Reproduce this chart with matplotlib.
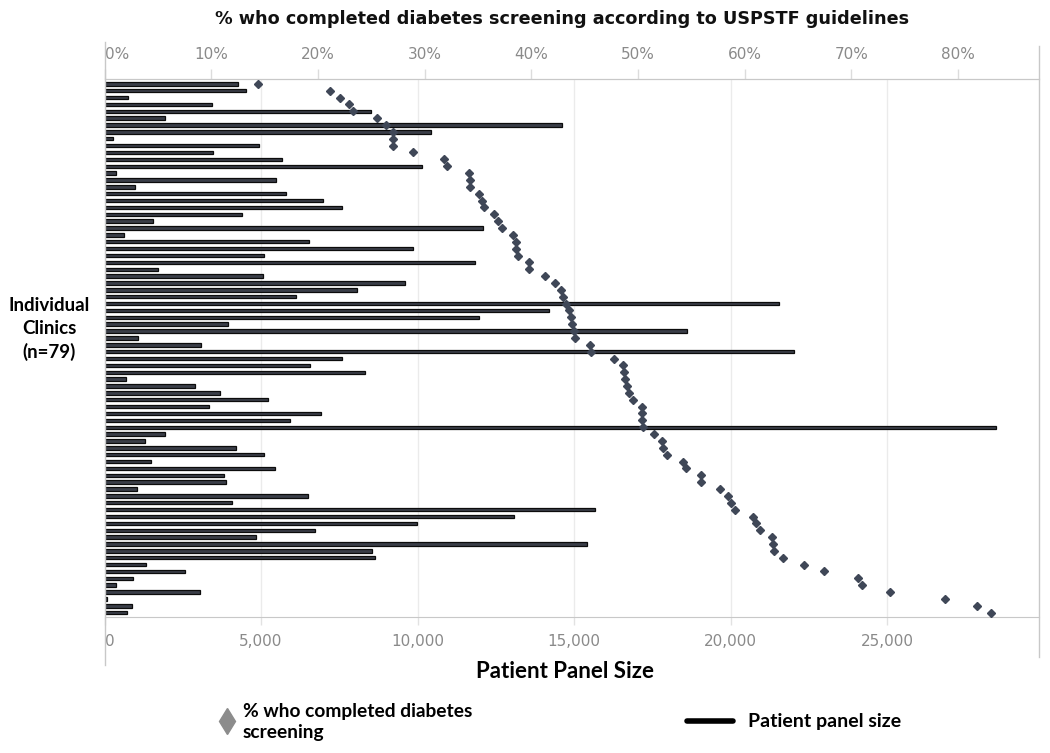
import matplotlib
matplotlib.use("Agg")
import matplotlib.pyplot as plt
from matplotlib.lines import Line2D
import numpy as np

# ---- data (one row per clinic, top to bottom) ----
panel_size = [4261, 4527, 761, 3442, 8517, 1942, 14603, 10443, 271, 4921,
              3474, 5676, 10135, 367, 5485, 984, 5804, 6975, 7592, 4400,
              1548, 12103, 622, 6538, 9869, 5091, 11848, 1718, 5049, 9603,
              8070, 6113, 21550, 14210, 11975, 3953, 18611, 1059, 3080, 22040,
              7583, 6578, 8337, 685, 2889, 3689, 5219, 3323, 6932, 5927,
              28484, 1919, 1302, 4203, 5082, 1485, 5436, 3803, 3894, 1039,
              6487, 4066, 15668, 13076, 9993, 6715, 4831, 15406, 8554, 8645,
              1313, 2581, 902, 377, 3038, 69, 868, 731]
pct_screened = [14.4, 21.1, 22.1, 22.9, 23.3, 25.5, 26.4, 27.0, 27.0, 27.0,
                28.9, 31.8, 32.1, 34.2, 34.3, 34.3, 35.1, 35.4, 35.6, 36.5,
                36.9, 37.3, 38.3, 38.6, 38.6, 38.8, 39.8, 39.8, 41.3, 42.2,
                42.8, 43.0, 43.3, 43.5, 43.7, 43.8, 44.0, 44.1, 45.5, 45.6,
                47.8, 48.6, 48.7, 48.8, 49.0, 49.2, 49.5, 50.4, 50.4, 50.4,
                50.5, 51.5, 52.3, 52.4, 52.7, 54.2, 54.5, 55.9, 55.9, 57.7,
                58.4, 58.7, 59.1, 60.8, 61.1, 61.4, 62.6, 62.7, 62.8, 63.6,
                65.6, 67.4, 70.6, 71.0, 73.6, 78.8, 81.8, 83.1]
size_ticks = [0, 5000, 10000, 15000, 20000, 25000]
size_labels = ["0", "5,000", "10,000", "15,000", "20,000", "25,000"]
pct_ticks = [0, 10, 20, 30, 40, 50, 60, 70, 80]
pct_labels = ["0%", "10%", "20%", "30%", "40%", "50%", "60%", "70%", "80%"]

title = "% who completed diabetes screening according to USPSTF guidelines"
xlabel = "Patient Panel Size"
ylabel = "Individual\nClinics\n(n=79)"
legend_dot = "% who completed diabetes\nscreening"
legend_bar = "Patient panel size"

W, H = 1050, 753
fig = plt.figure(figsize=(W / 100, H / 100), dpi=100)

def fx(px):
    return px / W

def fy(py):
    return 1 - py / H

left, right, top, bottom = 104.5, 1039, 79, 617
ax = fig.add_axes([fx(left), fy(bottom), fx(right) - fx(left), fy(top) - fy(bottom)])

rows = np.arange(len(panel_size))
n = len(rows)

ax.barh(rows, panel_size, height=0.5, color="#3a3e48", edgecolor="#0c0c0c",
        linewidth=0.9, zorder=3)
ax.set_xlim(0, 29856)
ax.set_ylim(n - 1 + 0.63, -0.70)
ax.set_yticks([])
ax.set_xticks(size_ticks)
ax.set_xticklabels(size_labels)
ax.tick_params(axis="x", direction="out", length=6, color="#e2e2e2", width=1,
               labelcolor="#8a8a8a", labelsize=11, pad=6)
for lbl in ax.get_xticklabels():
    if lbl.get_text() == "0":
        lbl.set_ha("left")
ax.grid(axis="x", color="#ebebeb", linewidth=1, zorder=0)
ax.set_axisbelow(True)
for s in ["left", "right"]:
    ax.spines[s].set_visible(False)
ax.spines["bottom"].set_color("#c8c8c8")
ax.spines["top"].set_color("#c8c8c8")

ax2 = ax.twiny()
ax2.plot(pct_screened, rows, linestyle="none", marker="D", markersize=4.2,
         color="#3f4757", zorder=5)
ax2.set_xlim(0, 87.6)
ax2.set_ylim(n - 1 + 0.63, -0.70)
ax2.set_xticks(pct_ticks)
ax2.set_xticklabels(pct_labels)
ax2.tick_params(axis="x", direction="out", length=7, color="#dcdcdc", width=1,
                labelcolor="#8a8a8a", labelsize=11, pad=5)
for lbl in ax2.get_xticklabels():
    if lbl.get_text() == "0%":
        lbl.set_ha("left")
for s in ["left", "right", "bottom"]:
    ax2.spines[s].set_visible(False)
ax2.spines["top"].set_color("#c8c8c8")

# pane border lines extending beyond the plot
fig.add_artist(Line2D([fx(left), fx(left)], [fy(42), fy(665)], color="#c8c8c8", lw=1))
fig.add_artist(Line2D([fx(right), fx(right)], [fy(46), fy(657)], color="#c8c8c8", lw=1))

# titles
fig.text(fx(562), fy(19), title, ha="center", va="center", fontsize=12.7,
         fontweight="bold", family="DejaVu Sans", color="#111111")
fig.text(fx(565), fy(671), xlabel, ha="center", va="center", fontsize=16,
         fontweight="bold", family="Lato", color="#000000")
fig.text(fx(49), fy(329), ylabel, ha="center", va="center", fontsize=13.5,
         fontweight="bold", family="Lato", color="#000000", linespacing=1.4)

# legend
fig.add_artist(Line2D([fx(227)], [fy(721)], marker="d", markersize=13,
                      color="#8c8c8c", linestyle="none"))
fig.text(fx(243), fy(722), legend_dot, ha="left", va="center", fontsize=13.8,
         fontweight="bold", family="Lato", color="#000000", linespacing=1.25)
fig.add_artist(Line2D([fx(687), fx(733)], [fy(721), fy(721)], color="#000000",
                      lw=4, solid_capstyle="round"))
fig.text(fx(748), fy(722), legend_bar, ha="left", va="center", fontsize=14,
         fontweight="bold", family="Lato", color="#000000")

fig.savefig("out.png", dpi=100)
